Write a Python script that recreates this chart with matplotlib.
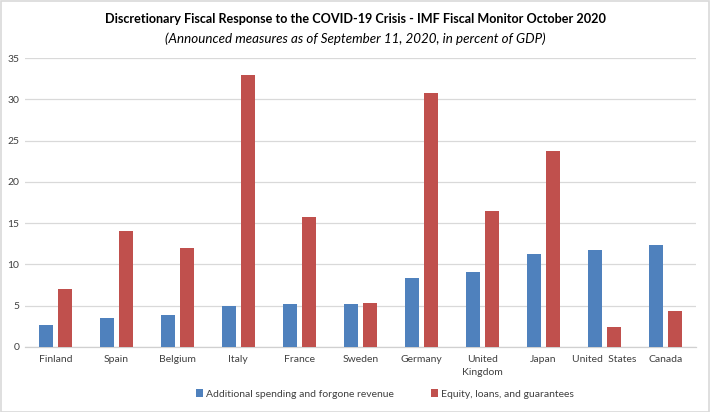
import matplotlib
matplotlib.use("Agg")
import matplotlib.pyplot as plt
import numpy as np
from matplotlib.patches import Rectangle, Patch

countries = ["Finland", "Spain", "Belgium", "Italy", "France", "Sweden", "Germany",
             "United\nKingdom", "Japan", "United  States", "Canada"]
spending = [2.6, 3.5, 3.9, 5.0, 5.2, 5.2, 8.3, 9.1, 11.3, 11.8, 12.4]
equity = [7.0, 14.1, 12.0, 33.0, 15.7, 5.3, 30.8, 16.5, 23.7, 2.4, 4.3]
series_names = ["Additional spending and forgone revenue", "Equity, loans, and guarantees"]
title = "Discretionary Fiscal Response to the COVID-19 Crisis - IMF Fiscal Monitor October 2020"
subtitle = "(Announced measures as of September 11, 2020, in percent of GDP)"
yticks = [0, 5, 10, 15, 20, 25, 30, 35]

plt.rcParams['font.family'] = ['Lato', 'DejaVu Sans']
blue = "#4F81BD"
red = "#C0504D"

fig = plt.figure(figsize=(7.10, 4.12), dpi=100)
ax = fig.add_axes([0.035, 0.158, 0.945, 0.701])

x = np.arange(len(countries))
w = 0.23
off = 0.155
ax.bar(x - off, spending, width=w, color=blue, zorder=3)
ax.bar(x + off, equity, width=w, color=red, zorder=3)

ax.set_xlim(-0.5, len(countries) - 0.5)
ax.set_ylim(0, 35)
ax.set_yticks(yticks)
ax.set_yticklabels([str(t) for t in yticks], fontsize=7.5, color="#404040")
ax.set_xticks(x)
ax.set_xticklabels(countries, fontsize=7.5, color="#404040", linespacing=1.5)
ax.tick_params(axis="both", length=0, pad=6)
ax.tick_params(axis="y", pad=4)
ax.grid(axis="y", color="#D9D9D9", linewidth=0.9, zorder=0)
for s in ["top", "right", "left"]:
    ax.spines[s].set_visible(False)
ax.spines["bottom"].set_color("#D0D0D0")
ax.spines["bottom"].set_linewidth(0.9)

fig.text(0.5, 0.955, title, ha="center", va="center", fontsize=9.1, fontweight="bold", color="#000000")
fig.text(0.5, 0.905, subtitle, ha="center", va="center", fontsize=9.6, style="italic", color="#000000")

handles = [Patch(facecolor=blue), Patch(facecolor=red)]
fig.legend(handles, series_names, loc="center", bbox_to_anchor=(0.542, 0.044), ncol=2,
           frameon=False, fontsize=7.5, handlelength=0.7, handleheight=0.7,
           handletextpad=0.3, columnspacing=3.5, labelcolor="#404040")

fig.patches.append(Rectangle((0.001, 0.001), 0.997, 0.997, transform=fig.transFigure,
                             fill=False, edgecolor="#D9D9D9", linewidth=1.2))

fig.savefig("out.png", dpi=100, facecolor="white")
